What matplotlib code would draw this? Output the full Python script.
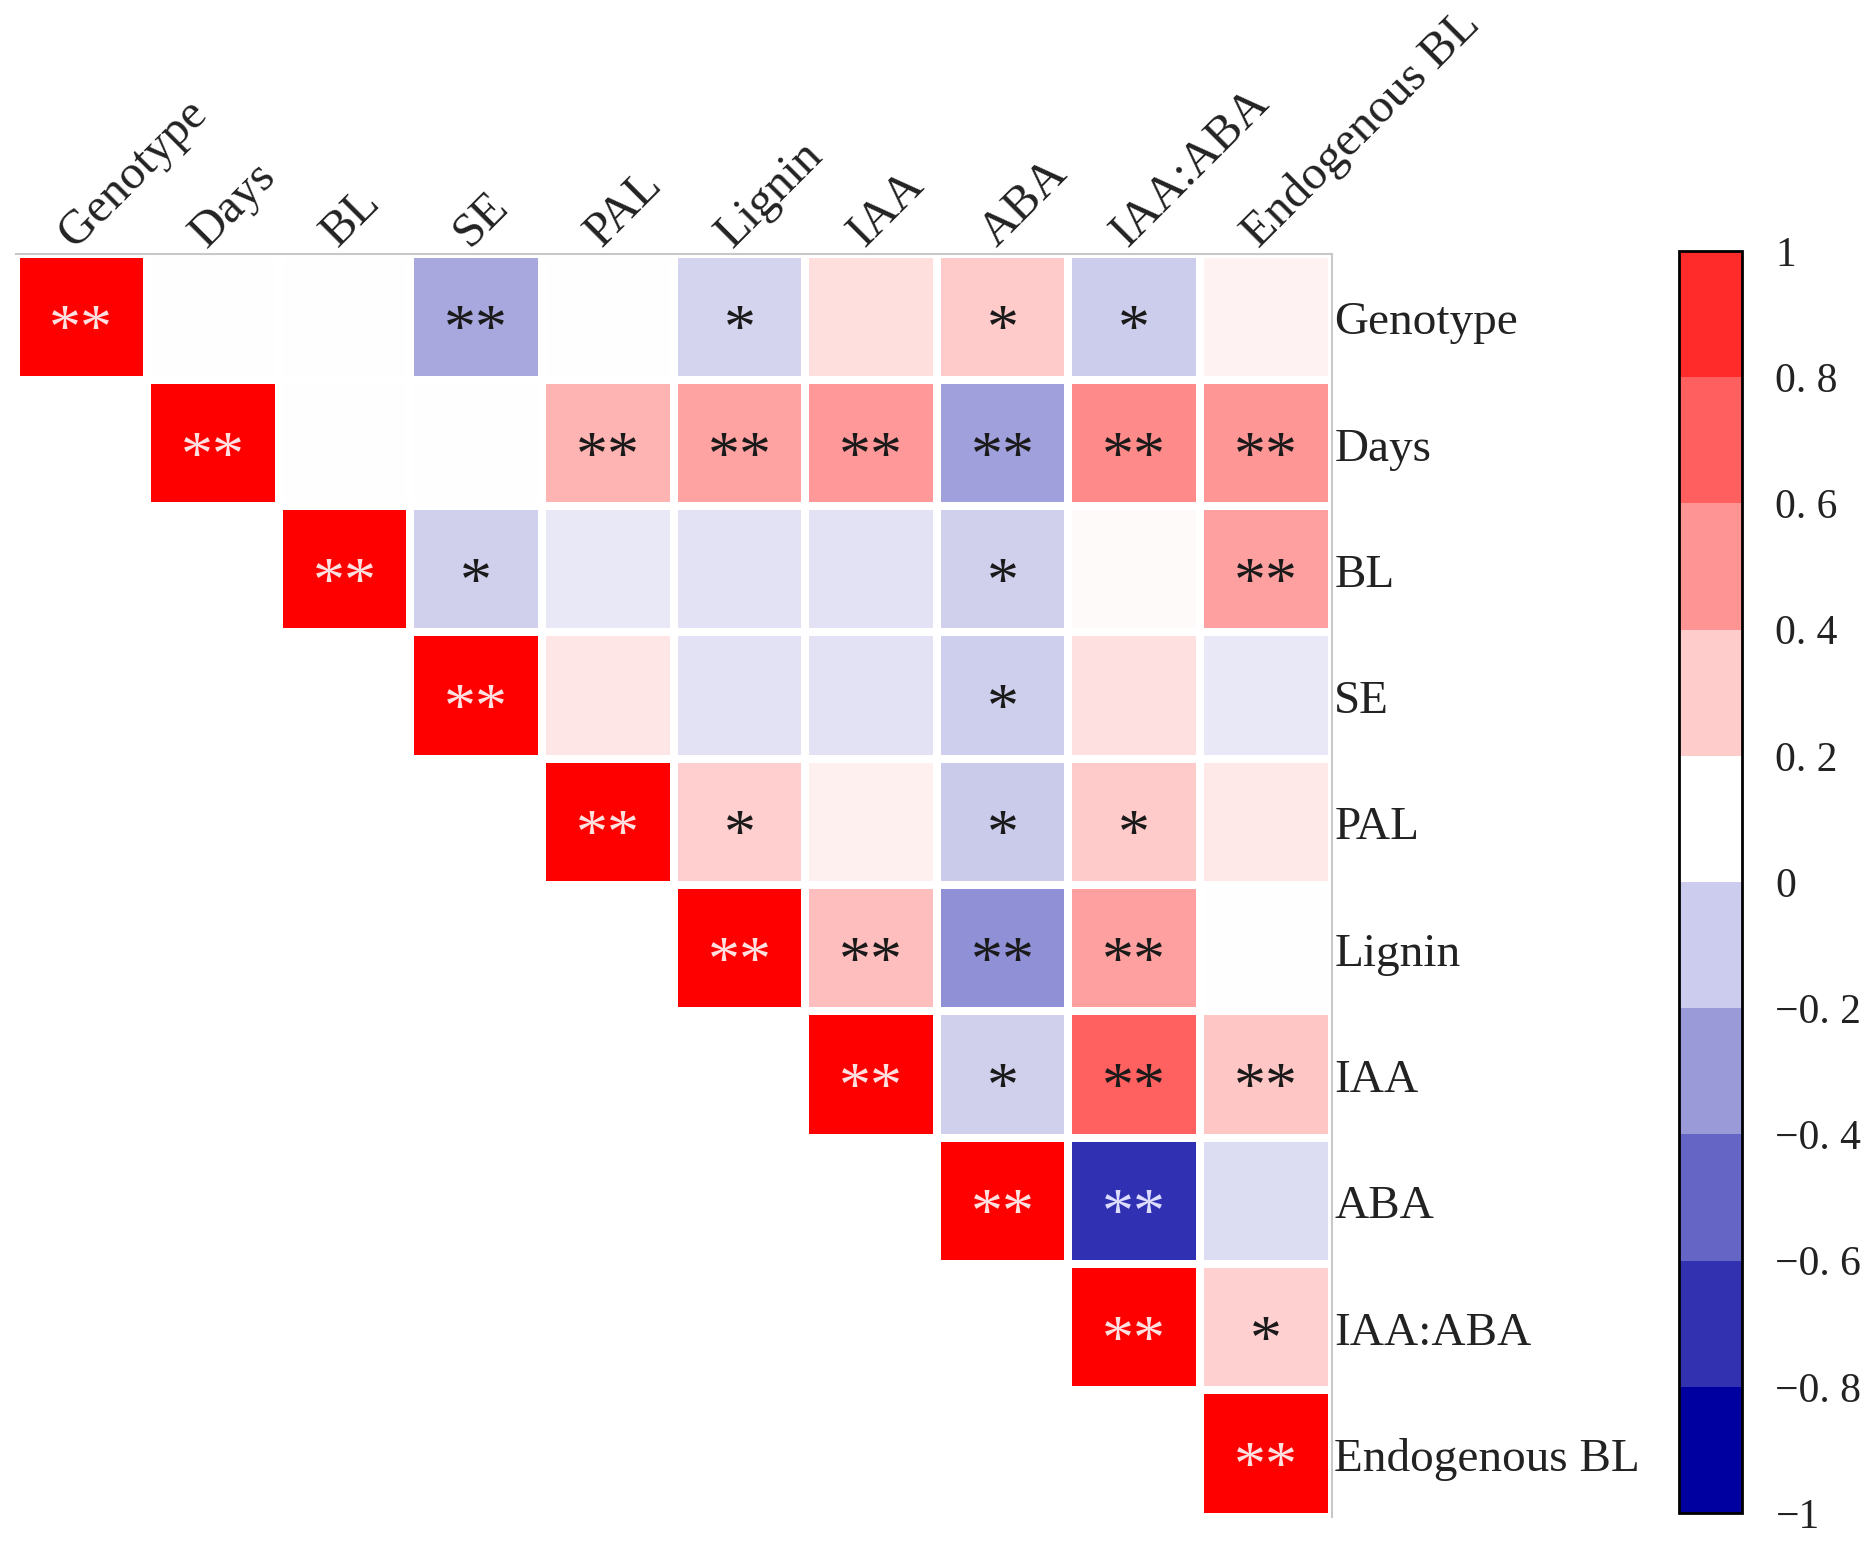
import numpy as np
import matplotlib
matplotlib.use("Agg")
import matplotlib.pyplot as plt
from matplotlib.colors import LinearSegmentedColormap, ListedColormap, BoundaryNorm
import matplotlib.colorbar as mcolorbar

# variables, same order on both axes
labels = ["Genotype", "Days", "BL", "SE", "PAL", "Lignin", "IAA", "ABA", "IAA:ABA", "Endogenous BL"]

# upper triangle of the correlation matrix, one list per row (starting at the diagonal)
r_genotype = [1.0, 0.0, 0.0, -0.34, 0.0, -0.17, 0.13, 0.21, -0.20, 0.05]
r_days = [1.0, 0.0, 0.0, 0.29, 0.36, 0.40, -0.37, 0.46, 0.41]
r_bl = [1.0, -0.18, -0.09, -0.11, -0.11, -0.18, 0.02, 0.37]
r_se = [1.0, 0.10, -0.11, -0.11, -0.19, 0.12, -0.09]
r_pal = [1.0, 0.19, 0.06, -0.21, 0.21, 0.09]
r_lignin = [1.0, 0.25, -0.435, 0.37, 0.0]
r_iaa = [1.0, -0.18, 0.62, 0.22]
r_aba = [1.0, -0.81, -0.14]
r_iaa_aba = [1.0, 0.18]
r_endo = [1.0]

# significance marks, same layout
s_genotype = ["**", "", "", "**", "", "*", "", "*", "*", ""]
s_days = ["**", "", "", "**", "**", "**", "**", "**", "**"]
s_bl = ["**", "*", "", "", "", "*", "", "**"]
s_se = ["**", "", "", "", "*", "", ""]
s_pal = ["**", "*", "", "*", "*", ""]
s_lignin = ["**", "**", "**", "**", ""]
s_iaa = ["**", "*", "**", "**"]
s_aba = ["**", "**", ""]
s_iaa_aba = ["**", "*"]
s_endo = ["**"]

rows_r = [r_genotype, r_days, r_bl, r_se, r_pal, r_lignin, r_iaa, r_aba, r_iaa_aba, r_endo]
rows_s = [s_genotype, s_days, s_bl, s_se, s_pal, s_lignin, s_iaa, s_aba, s_iaa_aba, s_endo]

cbar_bounds = [-1, -0.8, -0.6, -0.4, -0.2, 0, 0.2, 0.4, 0.6, 0.8, 1]
cbar_labels = ["\u22121", "\u22120. 8", "\u22120. 6", "\u22120. 4", "\u22120. 2", "0",
               "0. 2", "0. 4", "0. 6", "0. 8", "1"]
cbar_colors = ["#0000a0", "#3232b0", "#6565c6", "#9a9ad8", "#ccccee",
               "#ffffff", "#ffcccc", "#ff9494", "#ff5f5f", "#ff2a2a"]

n = len(labels)
mat = np.full((n, n), np.nan)
sig = [["" for _ in range(n)] for _ in range(n)]
for i in range(n):
    for k, v in enumerate(rows_r[i]):
        mat[i, i + k] = v
        sig[i][i + k] = rows_s[i][k]
mat = np.ma.masked_invalid(mat)

cell_cmap = LinearSegmentedColormap.from_list("corr", ["#0000a0", "#ffffff", "#ff0000"])

font = "Liberation Serif"

fig = plt.figure(figsize=(18.76, 15.45), dpi=100)
fig.patch.set_facecolor("white")

ax = fig.add_axes([0.0083, 0.0184, 0.7015, 0.8175])
ax.pcolormesh(np.arange(n + 1), np.arange(n + 1), mat, cmap=cell_cmap, vmin=-1, vmax=1,
              edgecolors="white", linewidth=4.5)
ax.set_xlim(0, n)
ax.set_ylim(n, 0)

for i in range(n):
    for j in range(i, n):
        txt = sig[i][j]
        if not txt:
            continue
        v = mat[i, j]
        col = "#ffe0e0" if v > 0.7 else ("#dcdcff" if v < -0.6 else "#1a1a1a")
        ax.text(j + 0.5, i + 0.75, txt, ha="center", va="baseline",
                fontsize=46, color=col, family=font)

ax.set_xticks([])
ax.set_yticks([])
for side in ["left", "bottom"]:
    ax.spines[side].set_visible(False)
for side in ["top", "right"]:
    ax.spines[side].set_color("#c8c8c8")
    ax.spines[side].set_linewidth(1.5)

# column labels on top, rotated
for j, lab in enumerate(labels):
    ax.text(j + 0.45, -0.04, lab, rotation=45, rotation_mode="anchor",
            ha="left", va="baseline", fontsize=35, color="#222222", family=font)

# row labels at the right
for i, lab in enumerate(labels):
    ax.text(n + 0.02, i + 0.55, lab, ha="left", va="center",
            fontsize=34, color="#222222", family=font)

# discrete colour bar
cax = fig.add_axes([0.8948, 0.0207, 0.0338, 0.8168])
cb = mcolorbar.ColorbarBase(cax, cmap=ListedColormap(cbar_colors),
                            norm=BoundaryNorm(cbar_bounds, len(cbar_colors)),
                            boundaries=cbar_bounds, ticks=cbar_bounds)
cb.set_ticklabels(cbar_labels)
cb.outline.set_linewidth(2)
cb.outline.set_edgecolor("black")
cax.tick_params(length=0, pad=24, labelsize=30, labelcolor="#222222")
for t in cax.get_yticklabels():
    t.set_family(font)

plt.savefig("out.png", dpi=100)
